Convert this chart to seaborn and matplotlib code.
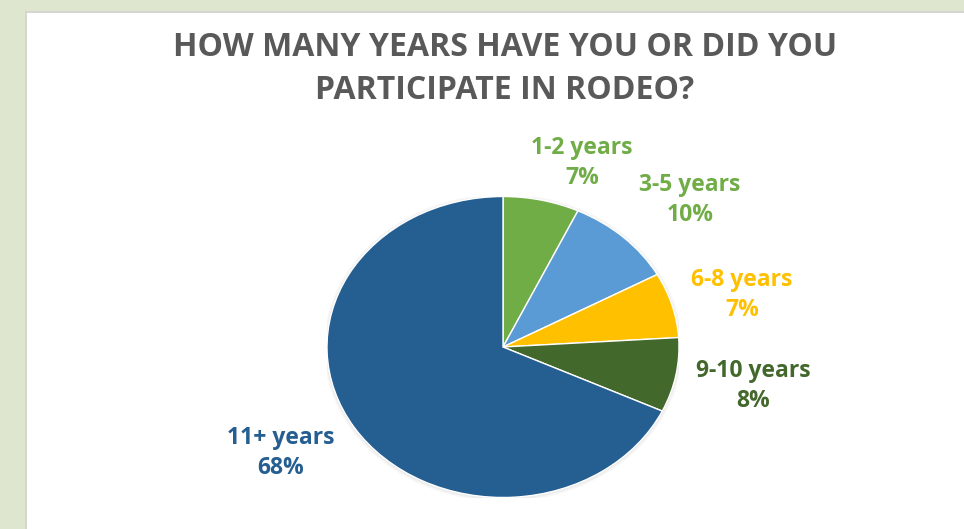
import matplotlib
matplotlib.use("Agg")
import matplotlib.pyplot as plt
from matplotlib.patches import Rectangle, Ellipse
import seaborn as sns

# Survey answers
categories = ["1-2 years", "3-5 years", "6-8 years", "9-10 years", "11+ years"]
shares = [7, 10, 7, 8, 68]
slice_colors = ["#70AD47", "#5B9BD5", "#FFC000", "#43682B", "#255E91"]
label_colors = ["#70AD47", "#70AD47", "#FFC000", "#43682B", "#255E91"]
title = "HOW MANY YEARS HAVE YOU OR DID YOU\nPARTICIPATE IN RODEO?"

sns.set_theme(style="white")
plt.rcParams["font.family"] = ["Open Sans", "DejaVu Sans"]

W, H = 964, 529
fig = plt.figure(figsize=(W / 100, H / 100), dpi=100)
fig.patch.set_facecolor("#DEE6D0")

# white slide panel with a faint edge
fig.add_artist(Rectangle((25 / W, 0), 1, (H - 11) / H, transform=fig.transFigure,
                         facecolor="#D6D6D0", edgecolor="none", zorder=0))
fig.add_artist(Rectangle((27 / W, 0), 1, (H - 13) / H, transform=fig.transFigure,
                         facecolor="white", edgecolor="none", zorder=0))

fig.text(505 / W, 1 - 69 / H, title, ha="center", va="center", fontsize=23,
         fontweight="bold", color="#595959", linespacing=1.38)

# pie axes: elliptical pie centred at (503, 347) px, radii 176 x 150
cx, cy, rx, ry = 503, 347, 176, 150.5
ax = fig.add_axes([(cx - rx) / W, (H - cy - ry) / H, 2 * rx / W, 2 * ry / H])

# soft shadow around the pie
for i in range(4):
    ax.add_patch(Ellipse((0.0, -0.005), 2 + 0.01 * (i + 1), 2 + 0.012 * (i + 1),
                         facecolor="black", edgecolor="none", alpha=0.02, zorder=0))

palette = sns.color_palette(slice_colors)
ax.pie(shares, colors=palette, startangle=90, counterclock=False,
       wedgeprops=dict(edgecolor="white", linewidth=1.0), radius=1.0)
ax.set_aspect("auto")
ax.set_xlim(-1, 1)
ax.set_ylim(-1, 1)
ax.axis("off")

# label block centres in pixels
label_pos = [(582, 163), (690, 200), (742, 295), (753, 386), (281, 453)]
for cat, val, col, (px, py) in zip(categories, shares, label_colors, label_pos):
    fig.text(px / W, 1 - py / H, f"{cat}\n{val}%", ha="center", va="center",
             fontsize=16.5, fontweight="bold", color=col, linespacing=1.38)

fig.savefig("out.png", dpi=100)
